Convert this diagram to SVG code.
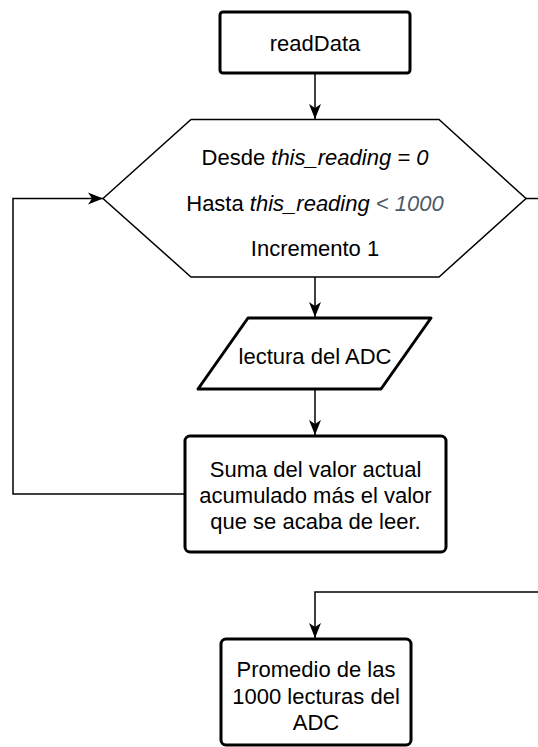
<svg xmlns="http://www.w3.org/2000/svg" width="538" height="747" viewBox="0 0 538 747">
<style>
.node{fill:#fff;stroke:#000;stroke-width:3;stroke-linejoin:round}
.hex{fill:#fff;stroke:#000;stroke-width:1.5}
.edge{fill:none;stroke:#000;stroke-width:1.5}
text{font-family:"Liberation Sans",Arial,Helvetica,sans-serif;font-size:22px;fill:#000;text-anchor:middle}
.it{font-style:italic}
.gr{fill:#4f5b66}
</style>
<defs>
<marker id="arr" markerUnits="userSpaceOnUse" markerWidth="16" markerHeight="14" viewBox="0 0 16 14" refX="15" refY="7" orient="auto">
<path d="M0,1 L15,7 L0,13 L4,7 z" fill="#000"/>
</marker>
</defs>
<rect width="538" height="747" fill="#fff"/>
<g id="connectors">
<path class="edge" d="M315,73 V119" marker-end="url(#arr)"/>
<path class="edge" d="M315,277 V317" marker-end="url(#arr)"/>
<path class="edge" d="M315,389 V435" marker-end="url(#arr)"/>
<path class="edge" d="M185,494 H13 V198.5 H103" marker-end="url(#arr)"/>
<path class="edge" d="M526,198.5 H550 V592 H315 V638" marker-end="url(#arr)"/>
</g>
<g id="readData">
<rect class="node" x="220" y="12" width="190" height="61" rx="3"/>
<text x="315" y="51">readData</text>
</g>
<g id="forLoop">
<polygon class="hex" points="103,198.5 191,119.5 439,119.5 526,198.5 439,277 191,277"/>
<text x="315" y="165">Desde <tspan class="it">this_reading = 0</tspan></text>
<text x="315" y="211">Hasta <tspan class="it">this_reading</tspan><tspan class="it gr"> &lt; 1000</tspan></text>
<text x="315" y="256">Incremento 1</text>
</g>
<g id="lecturaADC">
<path class="node" d="M248,318 H431 L381,389 H198 Z"/>
<text x="315" y="364">lectura del ADC</text>
</g>
<g id="suma">
<rect class="node" x="185" y="436" width="261" height="116" rx="5"/>
<text x="315.5" y="477">Suma del valor actual</text>
<text x="315.5" y="503">acumulado más el valor</text>
<text x="315.5" y="529">que se acaba de leer.</text>
</g>
<g id="promedio">
<rect class="node" x="221" y="639" width="190" height="106" rx="5"/>
<text x="316" y="677">Promedio de las</text>
<text x="316" y="704">1000 lecturas del</text>
<text x="316" y="730">ADC</text>
</g>
</svg>
